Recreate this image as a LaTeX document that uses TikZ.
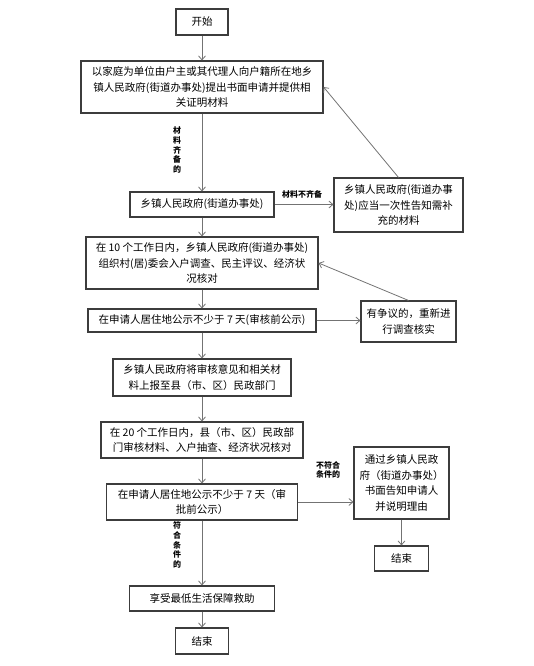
\documentclass[tikz,border=0pt]{standalone}
\usepackage{fontspec}
\setmainfont{Noto Sans CJK SC}
\usetikzlibrary{arrows.meta}
\definecolor{boxline}{RGB}{60,60,60}
\definecolor{arrline}{RGB}{115,115,115}
\tikzset{
  box/.style={draw=boxline, line width=1.1pt, align=center, inner sep=0pt,
    font=\fontsize{10.5}{15.6}\selectfont},
  tag/.style={align=center, inner sep=0pt, font=\fontsize{8}{9.6}\selectfont\bfseries},
  flow/.style={draw=arrline, line width=0.8pt, -{Straight Barb[length=4pt,width=7pt]}}
}
\begin{document}
\begin{tikzpicture}[x=1pt,y=-1pt]
                \useasboundingbox (0,0) rectangle (534,666);
                % main column
                \node[box, minimum width=52, minimum height=26] (start) at (202,22) {开始};
                \node[box, minimum width=242, minimum height=52] (apply) at (202,87)
                  {以家庭为单位由户主或其代理人向户籍所在地乡\\镇人民政府(街道办事处)提出书面申请并提供相\\关证明材料};
                \node[box, minimum width=144, minimum height=25] (town) at (202,204.5) {乡镇人民政府(街道办事处)};
                \node[box, minimum width=232, minimum height=52] (survey) at (202,263)
                  {在 10 个工作日内，乡镇人民政府(街道办事处)\\组织村(居)委会入户调查、民主评议、经济状\\况核对};
                \node[box, minimum width=228, minimum height=23] (publicity) at (202,320.5) {在申请人居住地公示不少于 7 天(审核前公示)};
                \node[box, minimum width=178, minimum height=37] (report) at (202,377.5)
                  {乡镇人民政府将审核意见和相关材\\料上报至县（市、区）民政部门};
                \node[box, minimum width=202, minimum height=36] (county) at (202,440)
                  {在 20 个工作日内，县（市、区）民政部\\门审核材料、入户抽查、经济状况核对};
                \node[box, minimum width=191, minimum height=36] (approve) at (202,502)
                  {在申请人居住地公示不少于 7 天（审\\批前公示）};
                \node[box, minimum width=145, minimum height=25] (enjoy) at (202,598.5) {享受最低生活保障救助};
                \node[box, minimum width=53, minimum height=26] (end) at (202,641) {结束};
                % side column
                \node[box, minimum width=129, minimum height=54] (notify) at (398.5,205)
                  {乡镇人民政府(街道办事\\处)应当一次性告知需补\\充的材料};
                \node[box, minimum width=95, minimum height=41] (dispute) at (408.5,321.5)
                  {有争议的，重新进\\行调查核实};
                \node[box, minimum width=95, minimum height=72] (reject) at (401.5,483)
                  {通过乡镇人民政\\府（街道办事处）\\书面告知申请人\\并说明理由};
                \node[box, minimum width=54, minimum height=25] (endr) at (401.5,558.5) {结束};
                % labels
                \node[tag] (full) at (177,150) {材\\料\\齐\\备\\的};
                \node[tag] (lack) at (302,194) {材料不齐备};
                \node[tag] (fail) at (328,470) {不符合\\条件的};
                \node[tag] (pass) at (177,545) {符\\合\\条\\件\\的};
                % connectors
                \draw[flow] (start) -- (apply);
                \draw[flow] (apply) -- (town);
                \draw[flow] (town) -- (survey);
                \draw[flow] (survey) -- (publicity);
                \draw[flow] (publicity) -- (report);
                \draw[flow] (report) -- (county);
                \draw[flow] (county) -- (approve);
                \draw[flow] (approve) -- (enjoy);
                \draw[flow] (enjoy) -- (end);
                \draw[flow] (town.east) -- (town.east -| notify.west);
                \draw[flow] (notify.north) -- (apply.east);
                \draw[flow] (publicity.east) -- (publicity.east -| dispute.west);
                \draw[flow] (dispute.north) -- (survey.east);
                \draw[flow] (approve.east) -- (approve.east -| reject.west);
                \draw[flow] (reject) -- (endr);
\end{tikzpicture}
\end{document}
